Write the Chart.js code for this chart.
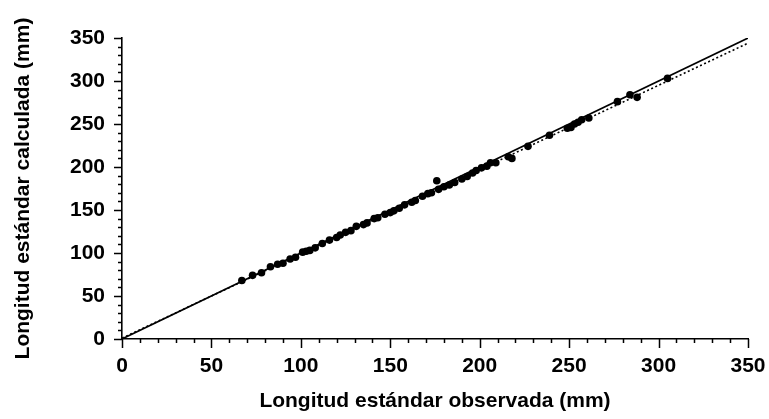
<!DOCTYPE html>
<html>
<head>
<meta charset="utf-8">
<script src="https://cdn.jsdelivr.net/npm/chart.js@4.4.0/dist/chart.umd.min.js"></script>
<style>
  html, body { margin: 0; padding: 0; background: #fff; }
  #wrap { width: 769px; height: 419px; }
</style>
</head>
<body>
<div id="wrap"><canvas id="lenChart" width="769" height="419"></canvas></div>
<script>
// ===== DATA =====
const obsLen  = [67, 73, 78, 83, 87, 90, 94, 97, 101, 103, 105, 108, 112, 116, 120, 122, 125, 128, 131, 135,
                 137, 141, 143, 147, 150, 152, 155, 158, 162, 164, 168, 171, 173, 176, 177, 180, 183, 186, 190, 193,
                 196, 198, 201, 204, 206, 209, 216, 218, 227, 239, 249, 251, 253, 255, 257, 261, 277, 284, 288, 305];
const calcLen = [68, 74, 77, 84, 87, 88, 93, 95, 101, 102, 103, 106, 111, 115, 118, 121, 124, 126, 131, 133,
                 135, 140, 141, 145, 147, 149, 152, 156, 159, 161, 166, 169, 170, 184, 174, 177, 179, 182, 186, 189,
                 193, 196, 199, 201, 205, 205, 212, 210, 224, 237, 245, 246, 250, 252, 255, 257, 276, 284, 281, 303];

const identityX = [0, 350];
const identityY = [0, 350];
const fitX      = [0, 350];
const fitY      = [1, 344];

const axisTicks = [0, 50, 100, 150, 200, 250, 300, 350];

const FONT = '"Liberation Sans", Arial, sans-serif';

const toPts = (xs, ys) => xs.map((x, i) => ({ x, y: ys[i] }));

// draws the short outward ticks (every 10, longer every 50)
const tickMarks = {
  id: 'tickMarks',
  afterDraw(chart) {
    const { ctx, scales: { x, y } } = chart;
    ctx.save();
    ctx.strokeStyle = '#000';
    ctx.lineWidth = 1.5;
    for (let v = 0; v <= 350; v += 10) {
      const major = v % 50 === 0;
      const px = Math.round(x.getPixelForValue(v)) + 0.5;
      const py = Math.round(y.getPixelForValue(v)) + 0.5;
      ctx.beginPath();
      ctx.moveTo(px, y.bottom);
      ctx.lineTo(px, y.bottom + (major ? 9 : 4));
      ctx.moveTo(x.left, py);
      ctx.lineTo(x.left - (major ? 8 : 4), py);
      ctx.stroke();
    }
    ctx.restore();
  }
};

new Chart(document.getElementById('lenChart'), {
  type: 'scatter',
  data: {
    datasets: [
      {
        label: 'Observaciones',
        data: toPts(obsLen, calcLen),
        backgroundColor: '#000',
        borderColor: '#000',
        pointRadius: 3.8,
        borderWidth: 0,
      },
      {
        label: '1:1',
        data: toPts(identityX, identityY),
        showLine: true,
        borderColor: '#000',
        borderWidth: 1.6,
        pointRadius: 0,
      },
      {
        label: 'Ajuste',
        data: toPts(fitX, fitY),
        showLine: true,
        borderColor: '#000',
        borderWidth: 1.6,
        borderDash: [2, 2.5],
        pointRadius: 0,
      }
    ]
  },
  options: {
    responsive: false,
    animation: false,
    layout: { padding: { top: 38, right: 3, bottom: 0, left: 0 } },
    plugins: {
      legend: { display: false },
      tooltip: { enabled: false }
    },
    scales: {
      x: {
        type: 'linear',
        min: 0, max: 350,
        afterBuildTicks: s => { s.ticks = axisTicks.map(v => ({ value: v })); },
        afterFit: s => { s.height = 80; s.paddingRight = 21; },
        ticks: { color: '#000', font: { family: FONT, size: 21, weight: 'bold' }, padding: 7, maxRotation: 0 },
        grid: { display: false },
        border: { display: true, color: '#000', width: 1.6 },
        title: {
          display: true,
          text: 'Longitud estándar observada (mm)',
          color: '#000',
          font: { family: FONT, size: 21, weight: 'bold' },
          padding: { top: 0, bottom: 5 }
        }
      },
      y: {
        type: 'linear',
        min: 0, max: 350,
        afterBuildTicks: s => { s.ticks = axisTicks.map(v => ({ value: v })); },
        afterFit: s => { s.width = 122; },
        ticks: { color: '#000', font: { family: FONT, size: 21, weight: 'bold' }, padding: 9 },
        grid: { display: false },
        border: { display: true, color: '#000', width: 1.6 },
        title: {
          display: true,
          text: 'Longitud estándar calculada (mm)',
          color: '#000',
          font: { family: FONT, size: 21, weight: 'bold' },
          padding: { top: 11, bottom: 0 }
        }
      }
    }
  },
  plugins: [tickMarks]
});
</script>
</body>
</html>
